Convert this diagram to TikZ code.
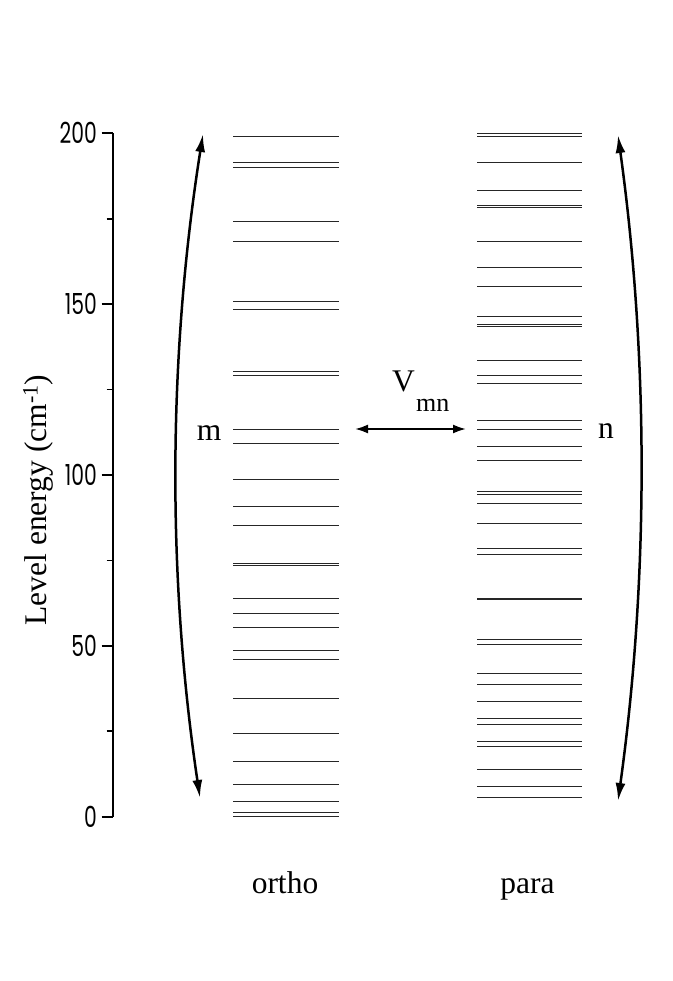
\documentclass[tikz,border=0pt]{standalone}
\usepackage{fontspec}
\setmainfont{Liberation Serif}
\newfontfamily\axisfont{Poppins}
\usetikzlibrary{arrows.meta}
\begin{document}
\begin{tikzpicture}[x=1pt,y=-1pt,
  level/.style={line width=1pt, black!85},
  axisline/.style={line width=1.8pt},
  tickline/.style={line width=1.6pt},
  bigarrow/.style={line width=2.5pt, {Latex[length=18pt,width=10pt]}-{Latex[length=18pt,width=10pt]}},
  harrow/.style={line width=2pt, {Latex[length=13pt,width=9pt]}-{Latex[length=13pt,width=9pt]}},
  lbl/.style={font=\fontsize{31.5}{36}\selectfont, inner sep=0pt},
  sublbl/.style={font=\fontsize{26}{30}\selectfont, inner sep=0pt},
  ticklbl/.style={font=\axisfont\fontsize{29}{29}\selectfont, anchor=east, inner sep=0pt}]
\useasboundingbox (0,0) rectangle (672,981);
% axis
\draw[axisline] (112.7,133.3) -- (112.7,816.7);
\foreach \v in {0,50,100,150,200} {
  \draw[tickline] (101.5,{816.7-3.417*\v}) -- (112.7,{816.7-3.417*\v});
  \node[ticklbl] (t\v) at (97,{816.7-3.417*\v}) {\scalebox{0.7}[1]{\v}};
}
\foreach \v in {25,75,125,175} {
  \draw[tickline] (106.5,{816.7-3.417*\v}) -- (112.7,{816.7-3.417*\v});
}
\node[lbl, rotate=90, anchor=base] (ylab) at (46.7,500) {Level energy (cm\textsuperscript{-1})};
% ortho levels
\foreach \y in {137, 162.7, 167.7, 222, 241.3, 301.7, 309.7, 371.7, 375.3, 429, 443.3, 479.7, 506, 525, 563, 565, 598.7, 613.7, 627.3, 650, 659.3, 698.7, 733, 761.3, 784, 801, 812.7, 816.5}
  \draw[level] (233,\y) -- (339,\y);
% para levels
\foreach \y in {133.7, 137, 162.7, 190.7, 205.3, 207.3, 241.7, 267.7, 286.7, 316.3, 324.3, 326.7, 360.3, 375.7, 383.7, 420.7, 429, 446.7, 460.3, 491.3, 494.3, 503.3, 523, 548, 554, 598.5, 599.5, 639.3, 644.3, 673.3, 684, 701.7, 718, 724.7, 741.7, 746.3, 769.3, 786.3, 797.7}
  \draw[level] (477,\y) -- (582,\y);
% curved arrows
\coordinate (mt) at (203,134);
\coordinate (mb) at (200,798);
\coordinate (nt) at (618,135);
\coordinate (nb) at (618,801);
\draw[bigarrow] (mb) .. controls (167,576.7) and (168,355.3) .. (mt);
\draw[bigarrow] (nb) .. controls (648.7,579) and (648.7,357) .. (nt);
% coupling arrow
\coordinate (hl) at (355,429);
\coordinate (hr) at (466,429);
\draw[harrow] (hl) -- (hr);
\node[lbl, anchor=base west] (V) at (392,391.7) {V};
\node[sublbl, anchor=base west] (mn) at (416,411) {mn};
% labels
\node[lbl, anchor=base] (m) at (209,440) {m};
\node[lbl, anchor=base] (n) at (606,438) {n};
\node[lbl, anchor=base] (ortho) at (285,893) {ortho};
\node[lbl, anchor=base] (para) at (527.5,893) {para};
\end{tikzpicture}
\end{document}
